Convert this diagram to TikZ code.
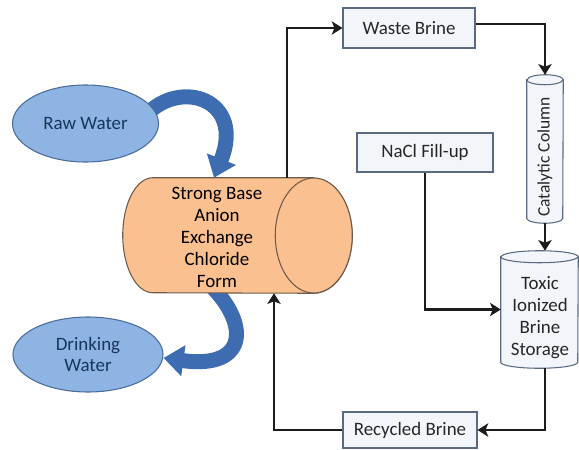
\documentclass[tikz,border=0pt]{standalone}
\usepackage{fontspec}
\setmainfont{Carlito}
\usetikzlibrary{arrows.meta,shapes.geometric}
\pgfdeclarelayer{background}
\pgfsetlayers{background,main}

\definecolor{waterfill}{HTML}{8DB4E2}
\definecolor{waterline}{HTML}{4A6C9B}
\definecolor{watertext}{HTML}{17365D}
\definecolor{bandblue}{HTML}{3D6DB0}
\definecolor{resinfill}{HTML}{FAC08F}
\definecolor{resinline}{HTML}{6E5A4A}
\definecolor{boxfill}{HTML}{F2F6FB}
\definecolor{boxline}{HTML}{5A6A80}
\definecolor{pipe}{HTML}{1C1C1C}
\definecolor{ink}{HTML}{262626}

% vertical drum outline around a rectangular anchor node: #1 node, #2 x radius, #3 y radius
\newcommand\drawvcyl[3]{%
  \draw[vessel] ([yshift=-#3]#1.north west) -- ([yshift=#3]#1.south west)
    arc[start angle=180,end angle=360,x radius=#2,y radius=#3]
    -- ([yshift=-#3]#1.north east)
    arc[start angle=0,end angle=180,x radius=#2,y radius=#3] -- cycle;
  \draw[vessel,fill=none] ([yshift=-#3]#1.north west)
    arc[start angle=180,end angle=360,x radius=#2,y radius=#3];
}

\begin{document}
\begin{tikzpicture}[x=0.75pt,y=-0.75pt,
  txt/.style={font=\fontsize{14.2pt}{16.5pt}\selectfont, text=ink, align=center},
  water/.style={ellipse, draw=waterline, fill=waterfill, line width=0.8pt, inner sep=0pt,
    align=center, text=watertext, font=\fontsize{14.2pt}{16.5pt}\selectfont},
  stepbox/.style={rectangle, draw=boxline, fill=boxfill, line width=0.8pt, inner sep=0pt,
    font=\fontsize{14.2pt}{16.5pt}\selectfont, text=ink},
  anchorbox/.style={rectangle, inner sep=0pt, draw=none},
  vessel/.style={draw=boxline, fill=boxfill, line width=0.8pt},
  flow/.style={draw=pipe, line width=2.2pt, -{Stealth[length=8pt,width=10pt,inset=2pt]}},
  band/.style={draw=bandblue, line width=11.25pt, -{Triangle[length=15pt,width=22.5pt]}}
]
\useasboundingbox (0,0) rectangle (579,450);

% source and product water
\node[water, minimum width=109.5pt, minimum height=57.75pt] (raw) at (85.5,123.5) {Raw Water};
\node[water, minimum width=112.5pt, minimum height=56.25pt, font=\fontsize{14.2pt}{15.5pt}\selectfont]
  (drink) at (88,354.5) {Drinking\\Water};

% ion exchange vessel (horizontal drum)
\node[anchorbox, minimum width=171.75pt, minimum height=86.25pt] (sba) at (237.5,235.5) {};
\draw[draw=resinline, fill=resinfill, line width=0.8pt]
  ([xshift=-28.875pt]sba.north east) -- ([xshift=22.5pt]sba.north west)
  arc[start angle=90,end angle=270,x radius=22.5pt,y radius=43.125pt]
  -- ([xshift=-28.875pt]sba.south east)
  arc[start angle=-90,end angle=90,x radius=28.875pt,y radius=43.125pt] -- cycle;
\draw[draw=resinline, fill=resinfill, line width=0.8pt]
  ([xshift=-28.875pt]sba.east) ellipse[x radius=28.875pt,y radius=43.125pt];
\node[txt, text=black] (sbatext) at (217,237.5) {Strong Base\\Anion\\Exchange\\Chloride\\Form};

% brine loop boxes
\node[stepbox, minimum width=99pt, minimum height=30pt] (wb) at (409,28) {Waste Brine};
\node[stepbox, minimum width=102pt, minimum height=29.25pt] (nacl) at (425,152.5) {NaCl Fill-up};
\node[stepbox, minimum width=100.5pt, minimum height=27pt] (rb) at (410,430) {Recycled Brine};

% catalytic column
\node[anchorbox, minimum width=27pt, minimum height=111pt] (cat) at (545,149) {};
\drawvcyl{cat}{13.5pt}{3.75pt}
\node[txt, rotate=90, font=\fontsize{13.1pt}{15pt}\selectfont] (cattext) at (545,157) {Catalytic Column};

% brine storage tank
\node[anchorbox, minimum width=57.75pt, minimum height=87.75pt] (store) at (539.5,309.5) {};
\drawvcyl{store}{28.875pt}{4.5pt}
\node[txt] (storetext) at (540,318) {Toxic\\Ionized\\Brine\\Storage};

% water path (curved block arrows)
\begin{pgfonlayer}{background}
\draw[band] ([xshift=-9.75pt,yshift=6.4pt]raw.east) .. controls +(35,-37) and +(31,-78) ..
  ([xshift=-17.6pt]sba.north);
\draw[band] ([xshift=-24.4pt,yshift=9.75pt]sba.south) .. controls +(45,40) and +(87,12) ..
  ([yshift=-2.6pt]drink.east);
\end{pgfonlayer}

% brine regeneration loop
\draw[flow] ([xshift=37.125pt]sba.north) |- (wb.west);
\draw[flow] ([yshift=3pt]wb.east) -| (cat.north);
\draw[flow] (cat.south) -- (cat.south |- store.north);
\draw[flow] (nacl.south) |- (store.west);
\draw[flow] (store.south -| cat.south) |- (rb.east);
\draw[flow] (rb.west) -| ([xshift=27.375pt]sba.south);
\end{tikzpicture}
\end{document}
